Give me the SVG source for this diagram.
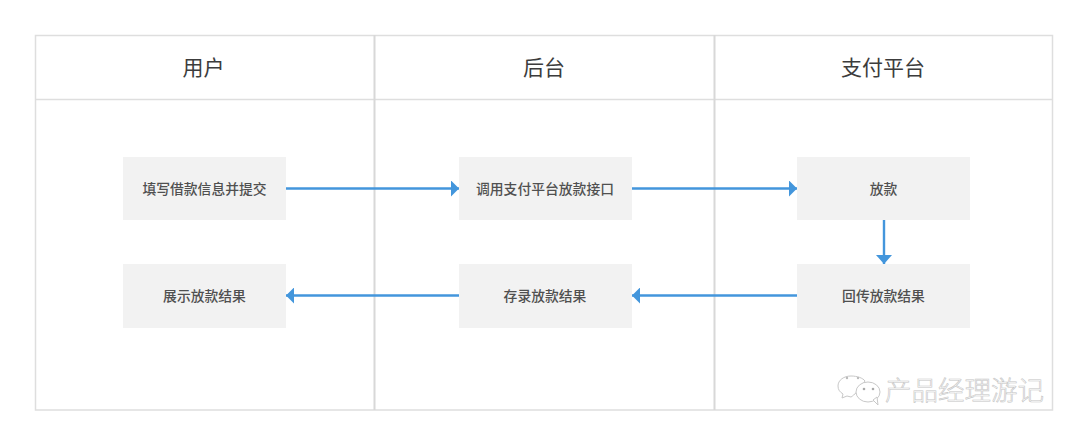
<svg xmlns="http://www.w3.org/2000/svg" width="1080" height="438" viewBox="0 0 1080 438">
<style>
text{font-family:"Noto Sans CJK SC","Liberation Sans",sans-serif;text-anchor:middle}
.h{font-size:21px;fill:#3c3c3c}
.n{font-size:13.8px;fill:#505050;font-weight:500}
.b{fill:#f2f2f2}
.l{stroke:#dedede;fill:none}
.c{stroke:#4396dc;stroke-width:2.4;fill:none}
.wm{font-size:26.5px;fill:#fff;stroke:#c4c4c4;stroke-width:.6;text-anchor:start;font-weight:300}
.wi{fill:#fff;stroke:#c8c8c8;stroke-width:1}
</style>
<defs>
<marker id="a" markerUnits="userSpaceOnUse" markerWidth="8" markerHeight="16" refX="8" refY="8" orient="auto"><path d="M0 0L8 8L0 16Z" fill="#4396dc"/></marker>
<marker id="d" markerUnits="userSpaceOnUse" markerWidth="9" markerHeight="16" refX="9" refY="8" orient="auto"><path d="M0 0L9 8L0 16Z" fill="#4396dc"/></marker>
</defs>
<rect width="1080" height="438" fill="#fff"/>
<g id="frame">
<rect class="l" x="35.500" y="35.500" width="1017" height="374.500" stroke-width="1.500"/>
<path class="l" d="M35 99.500H1053" stroke-width="1.500"/>
<path d="M374.500 35V410M714.500 35V410" stroke="#d8d8d8" stroke-width="2" fill="none"/>
</g>
<g id="lane-user"><text class="h" x="203.500" y="75">用户</text></g>
<g id="lane-backend"><text class="h" x="544" y="75">后台</text></g>
<g id="lane-pay"><text class="h" x="883" y="75">支付平台</text></g>
<g id="n1"><rect class="b" x="123" y="157" width="163" height="63"/><text class="n" x="204.500" y="194">填写借款信息并提交</text></g>
<g id="n2"><rect class="b" x="459" y="157" width="173" height="63"/><text class="n" x="545" y="194">调用支付平台放款接口</text></g>
<g id="n3"><rect class="b" x="797" y="157" width="173" height="63"/><text class="n" x="883.500" y="194">放款</text></g>
<g id="n4"><rect class="b" x="797" y="264" width="173" height="64"/><text class="n" x="883.500" y="301">回传放款结果</text></g>
<g id="n5"><rect class="b" x="459" y="264" width="173" height="64"/><text class="n" x="545" y="301">存录放款结果</text></g>
<g id="n6"><rect class="b" x="123" y="264" width="163" height="64"/><text class="n" x="204.500" y="301">展示放款结果</text></g>
<g id="connectors">
<path class="c" d="M286 188.500H459" marker-end="url(#a)"/>
<path class="c" d="M632 188.500H797" marker-end="url(#a)"/>
<path class="c" d="M884 220V264" marker-end="url(#d)"/>
<path class="c" d="M797 295.500H632" marker-end="url(#a)"/>
<path class="c" d="M459 295.500H286" marker-end="url(#a)"/>
</g>
<g id="watermark">
<path class="wi" d="M851 376c-7 0-13 4-13 10c0 4 2 6 5 8l-1 4l5-2c1 0 3 1 4 1c2-1 2-2 4-3l10-13c-2-3-8-5-14-5z"/>
<ellipse class="wi" cx="868" cy="392" rx="12" ry="10"/>
<path class="wi" d="M873 400l5 5l-1-8z"/>
<circle cx="847" cy="378" r="1.200" fill="#bbb"/><circle cx="858" cy="378" r="1.200" fill="#bbb"/>
<circle cx="864" cy="389" r="1.300" fill="#aaa"/><circle cx="873" cy="389" r="1.300" fill="#aaa"/>
<text class="wm" x="885" y="400">产品经理游记</text>
</g>
</svg>
